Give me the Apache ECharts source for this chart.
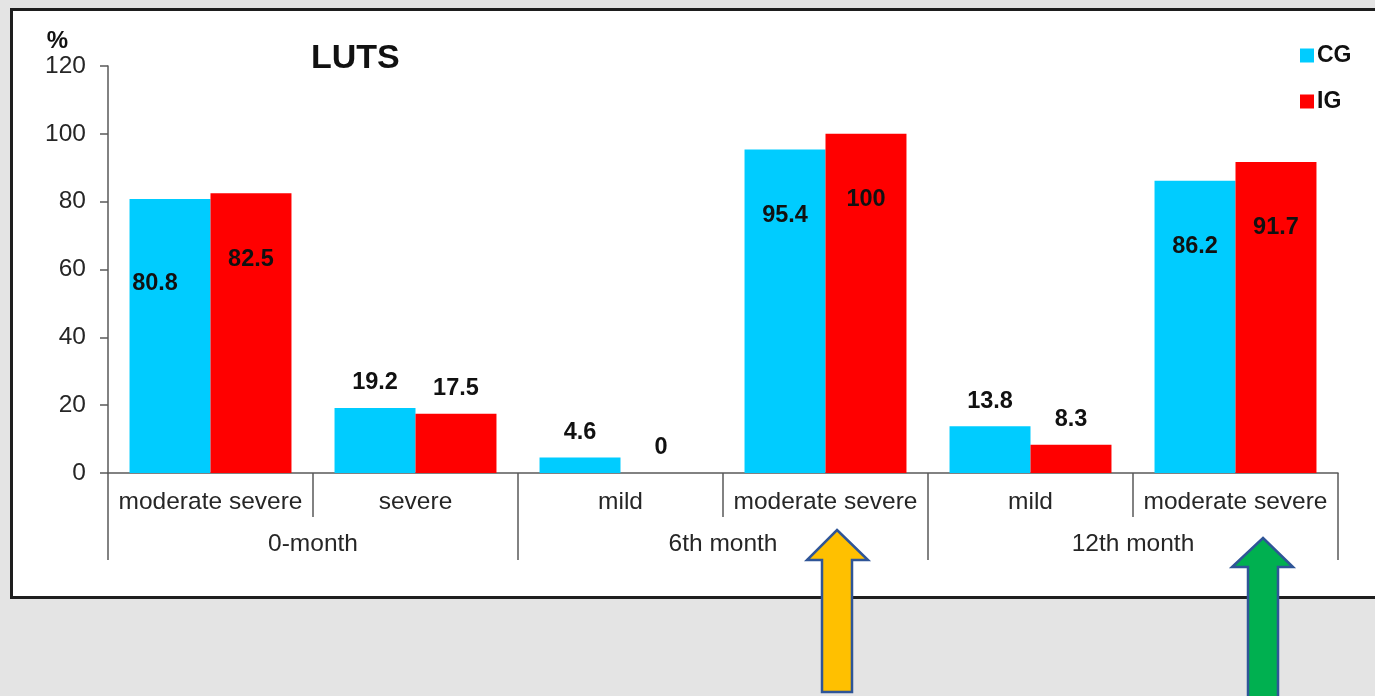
<!DOCTYPE html>
<html>
<head>
<meta charset="utf-8">
<script src="https://cdn.jsdelivr.net/npm/echarts@6/dist/echarts.min.js"></script>
<style>
  html, body { margin: 0; padding: 0; background: #e4e4e4; }
  #frame {
    position: absolute; left: 10px; top: 8px; width: 1380px; height: 585px;
    background: #fff; border: 3px solid #1e1e1e;
  }
  #chart { position: absolute; left: 0; top: 0; width: 1375px; height: 696px; }
</style>
</head>
<body>
<div id="frame"></div>
<div id="chart"></div>
<script>
// 数据：两级分类 + 两组百分比
const subCategories = ['moderate severe', 'severe', 'mild', 'moderate severe', 'mild', 'moderate severe'];
const groupCategories = ['0-month', '6th month', '12th month'];
const cgValues = [80.8, 19.2, 4.6, 95.4, 13.8, 86.2];
const igValues = [82.5, 17.5, 0, 100, 8.3, 91.7];
const yTicks = [0, 20, 40, 60, 80, 100, 120];

const COLORS = {
  cg: '#00ccff',
  ig: '#ff0000',
  axis: '#595959',
  text: '#262626'
};

const FONT = 'Liberation Sans, Arial, sans-serif';

/**
 * 标签放置：大柱放在柱内偏上，小柱放在柱顶上方
 */
function makeItems(values, shiftFirst) {
  return values.map((v, i) => {
    const inside = v > 50;
    const label = inside
      ? { position: 'insideTop', distance: 54 }
      : { position: 'top', distance: 13 };
    if (shiftFirst && i === 0) {
      label.distance = 73;
      label.offset = [-15, 0];
    }
    return { value: v, label: label };
  });
}

const chart = echarts.init(document.getElementById('chart'), null, { renderer: 'canvas' });

const axisLine = { show: true, lineStyle: { color: COLORS.axis, width: 1.5 } };
const labelFont = { fontFamily: FONT, fontSize: 24.5, color: COLORS.text };
const valueLabel = { show: true, fontFamily: FONT, fontSize: 23.5, fontWeight: 'bold', color: '#111' };

const option = {
  backgroundColor: 'transparent',
  animation: false,
  title: {
    text: 'LUTS',
    left: 306,
    top: 37,
    textStyle: { fontFamily: FONT, fontSize: 34, fontWeight: 'bold', color: '#111' }
  },
  legend: {
    data: ['CG', 'IG'],
    orient: 'vertical',
    left: 1295,
    top: 39,
    icon: 'rect',
    itemWidth: 14,
    itemHeight: 14,
    itemGap: 23,
    textStyle: { fontFamily: FONT, fontSize: 23, fontWeight: 'bold', color: '#111', padding: [0, 0, 0, -2] }
  },
  grid: { left: 108, right: 37, top: 66, bottom: 223, containLabel: false },
  xAxis: [
    {
      type: 'category',
      data: subCategories,
      position: 'bottom',
      axisLine: axisLine,
      axisTick: { show: true, interval: 0, length: 44, lineStyle: { color: COLORS.axis, width: 1.5 } },
      axisLabel: Object.assign({ interval: 0, margin: 17 }, labelFont)
    },
    {
      type: 'category',
      data: groupCategories,
      position: 'bottom',
      axisLine: { show: false },
      axisTick: { show: true, interval: 0, length: 87, lineStyle: { color: COLORS.axis, width: 1.5 } },
      axisLabel: Object.assign({ interval: 0, margin: 59 }, labelFont)
    }
  ],
  yAxis: {
    type: 'value',
    min: yTicks[0],
    max: yTicks[yTicks.length - 1],
    interval: 20,
    name: '%',
    nameLocation: 'end',
    nameGap: 8,
    nameTextStyle: {
      fontFamily: FONT, fontSize: 24, fontWeight: 'bold', color: '#111',
      align: 'right', padding: [0, 40, 0, 0]
    },
    axisLine: axisLine,
    axisTick: { show: true, inside: false, length: 8, lineStyle: { color: COLORS.axis, width: 1.5 } },
    axisLabel: Object.assign({ margin: 22 }, labelFont),
    splitLine: { show: false }
  },
  series: [
    {
      name: 'CG',
      type: 'bar',
      xAxisIndex: 0,
      data: makeItems(cgValues, true),
      barGap: '0%',
      barCategoryGap: '21%',
      itemStyle: { color: COLORS.cg },
      label: valueLabel
    },
    {
      name: 'IG',
      type: 'bar',
      xAxisIndex: 0,
      data: makeItems(igValues, false),
      barGap: '0%',
      barCategoryGap: '21%',
      itemStyle: { color: COLORS.ig },
      label: valueLabel
    }
  ],
  // 标注箭头（装饰）
  graphic: [
    {
      type: 'polygon',
      z: 100,
      shape: { points: [[837, 530], [868, 560], [852, 560], [852, 692], [822, 692], [822, 560], [807, 560]] },
      style: { fill: '#ffc000', stroke: '#2f5597', lineWidth: 2.5 }
    },
    {
      type: 'polygon',
      z: 100,
      shape: { points: [[1263, 538], [1293, 567], [1278, 567], [1278, 700], [1248, 700], [1248, 567], [1232, 567]] },
      style: { fill: '#00b050', stroke: '#2f5597', lineWidth: 2.5 }
    }
  ]
};

chart.setOption(option);
</script>
</body>
</html>
